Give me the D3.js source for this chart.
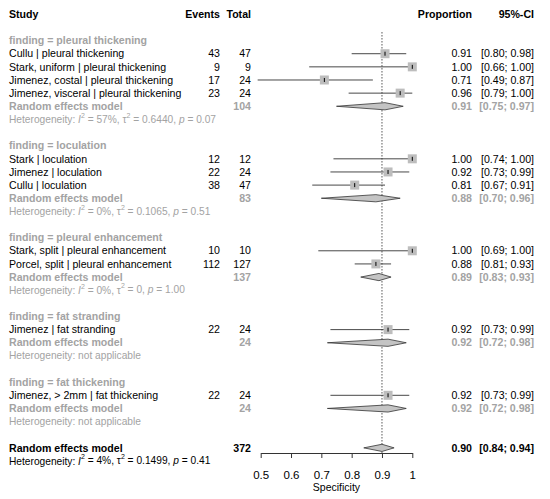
<!DOCTYPE html>
<html>
<head>
<meta charset="utf-8">
<script src="https://cdn.jsdelivr.net/npm/d3@7"></script>
<style>
  body { margin: 0; background: #fff; }
  text { font-family: "Liberation Sans", Arial, sans-serif; }
</style>
</head>
<body>
<script>
const groups = ["pleural thickening", "loculation", "pleural enhancement", "fat stranding", "fat thickening"];

const studies = [
  "Cullu | pleural thickening",
  "Stark, uniform | pleural thickening",
  "Jimenez, costal | pleural thickening",
  "Jimenez, visceral | pleural thickening",
  "Stark | loculation",
  "Jimenez | loculation",
  "Cullu | loculation",
  "Stark, split | pleural enhancement",
  "Porcel, split | pleural enhancement",
  "Jimenez | fat stranding",
  "Jimenez, > 2mm | fat thickening"
];
const studyGroup = [0, 0, 0, 0, 1, 1, 1, 2, 2, 3, 4];
const events = [43, 9, 17, 23, 12, 22, 38, 10, 112, 22, 22];
const totals = [47, 9, 24, 24, 12, 24, 47, 10, 127, 24, 24];
const props = [0.91, 1.00, 0.71, 0.96, 1.00, 0.92, 0.81, 1.00, 0.88, 0.92, 0.92];
const ciLow = [0.80, 0.66, 0.49, 0.79, 0.74, 0.73, 0.67, 0.69, 0.81, 0.73, 0.73];
const ciHigh = [0.98, 1.00, 0.87, 1.00, 1.00, 0.99, 0.91, 1.00, 0.93, 0.99, 0.99];

const subTotals = [104, 83, 137, 24, 24];
const subProp = [0.91, 0.88, 0.89, 0.92, 0.92];
const subLow = [0.75, 0.70, 0.83, 0.72, 0.72];
const subHigh = [0.97, 0.96, 0.93, 0.98, 0.98];
const subI2 = ["57%", "0%", "0%", null, null];
const subTau2 = ["0.6440", "0.1065", "0", null, null];
const subP = ["0.07", "0.51", "1.00", null, null];

const overall = { total: 372, prop: 0.90, low: 0.84, high: 0.94, i2: "4%", tau2: "0.1499", p: "0.41" };

const xTicks = [0.5, 0.6, 0.7, 0.8, 0.9, 1];
const refLine = 0.9;

const width = 550, height = 499;
const gray = "#a3a3a3";
const fs = 10.6;

const svg = d3.select("body").append("svg")
  .attr("width", width).attr("height", height);

// build rows
const rows = [];
rows.push({ type: "header" });
rows.push({ type: "blank" });
groups.forEach((g, gi) => {
  rows.push({ type: "group", label: "finding = " + g });
  studies.forEach((s, i) => {
    if (studyGroup[i] === gi) rows.push({ type: "study", i });
  });
  rows.push({ type: "sub", gi });
  rows.push({ type: "het", gi });
  rows.push({ type: "blank" });
});
rows.push({ type: "overall" });
rows.push({ type: "overallHet" });

const y = d3.scaleLinear().domain([0, rows.length - 1]).range([14.3, 461]);
const x = d3.scaleLinear().domain([0.5, 1]).range([260.7, 412.3]);

const col = { study: 9, events: 220, total: 251, prop: 472, ci: 534 };
const f2 = d3.format(".2f");

function txt(xp, yp, s, opts = {}) {
  return svg.append("text")
    .attr("x", xp).attr("y", yp).attr("dy", "0.35em")
    .attr("text-anchor", opts.anchor || "start")
    .attr("font-size", opts.size || fs)
    .attr("font-weight", opts.bold ? "bold" : "normal")
    .attr("fill", opts.color || "#000")
    .text(s);
}

function hetText(yp, i2, tau2, p, color) {
  const t = svg.append("text")
    .attr("x", col.study).attr("y", yp).attr("dy", "0.35em")
    .attr("font-size", 10.2).attr("fill", color);
  if (i2 === null) {
    t.text("Heterogeneity: not applicable");
    return;
  }
  t.append("tspan").text("Heterogeneity: ");
  t.append("tspan").attr("font-style", "italic").text("I");
  t.append("tspan").attr("font-size", 7).attr("dy", "-0.75em").text("2");
  t.append("tspan").attr("dy", "0.5em").text(" = " + i2 + ", \u03c4");
  t.append("tspan").attr("font-size", 7).attr("dy", "-0.75em").text("2");
  t.append("tspan").attr("dy", "0.5em").text(" = " + tau2 + ", ");
  t.append("tspan").attr("font-style", "italic").text("p");
  t.append("tspan").text(" = " + p);
}

function diamond(yp, est, lo, hi) {
  const h = 3.6;
  svg.append("polygon")
    .attr("points", [[x(lo), yp], [x(est), yp - h], [x(hi), yp], [x(est), yp + h]].join(" "))
    .attr("fill", "#c4c4c4").attr("stroke", "#333").attr("stroke-width", 0.8);
}

// reference line
const yTopRef = y(1.35);
const axisY = 453;
svg.append("line")
  .attr("x1", x(refLine)).attr("x2", x(refLine))
  .attr("y1", yTopRef).attr("y2", axisY)
  .attr("stroke", "#555").attr("stroke-width", 1)
  .attr("stroke-dasharray", "1.5,1.5");

rows.forEach((r, ri) => {
  const yp = y(ri);
  if (r.type === "header") {
    txt(col.study, yp, "Study", { bold: true });
    txt(col.events, yp, "Events", { bold: true, anchor: "end" });
    txt(col.total, yp, "Total", { bold: true, anchor: "end" });
    txt(col.prop, yp, "Proportion", { bold: true, anchor: "end" });
    txt(col.ci, yp, "95%-CI", { bold: true, anchor: "end" });
  } else if (r.type === "group") {
    txt(col.study, yp, r.label, { bold: true, color: gray });
  } else if (r.type === "study") {
    const i = r.i;
    txt(col.study, yp, studies[i]);
    txt(col.events, yp, events[i], { anchor: "end" });
    txt(col.total, yp, totals[i], { anchor: "end" });
    txt(col.prop, yp, f2(props[i]), { anchor: "end" });
    txt(col.ci, yp, "[" + f2(ciLow[i]) + "; " + f2(ciHigh[i]) + "]", { anchor: "end" });
    svg.append("line")
      .attr("x1", x(ciLow[i])).attr("x2", x(ciHigh[i]))
      .attr("y1", yp).attr("y2", yp)
      .attr("stroke", "#333").attr("stroke-width", 0.9);
    const s = 9;
    svg.append("rect")
      .attr("x", x(props[i]) - s / 2).attr("y", yp - s / 2)
      .attr("width", s).attr("height", s)
      .attr("fill", "#bdbdbd");
    svg.append("line")
      .attr("x1", x(props[i])).attr("x2", x(props[i]))
      .attr("y1", yp - 2).attr("y2", yp + 2)
      .attr("stroke", "#000").attr("stroke-width", 1);
  } else if (r.type === "sub") {
    const g = r.gi;
    txt(col.study, yp, "Random effects model", { bold: true, color: gray });
    txt(col.total, yp, subTotals[g], { bold: true, color: gray, anchor: "end" });
    txt(col.prop, yp, f2(subProp[g]), { bold: true, color: gray, anchor: "end" });
    txt(col.ci, yp, "[" + f2(subLow[g]) + "; " + f2(subHigh[g]) + "]", { bold: true, color: gray, anchor: "end" });
    diamond(yp, subProp[g], subLow[g], subHigh[g]);
  } else if (r.type === "het") {
    const g = r.gi;
    hetText(yp, subI2[g], subTau2[g], subP[g], gray);
  } else if (r.type === "overall") {
    txt(col.study, yp, "Random effects model", { bold: true });
    txt(col.total, yp, overall.total, { bold: true, anchor: "end" });
    txt(col.prop, yp, f2(overall.prop), { bold: true, anchor: "end" });
    txt(col.ci, yp, "[" + f2(overall.low) + "; " + f2(overall.high) + "]", { bold: true, anchor: "end" });
    diamond(yp, overall.prop, overall.low, overall.high);
  } else if (r.type === "overallHet") {
    hetText(yp, overall.i2, overall.tau2, overall.p, "#000");
  }
});

// axis
const axis = d3.axisBottom(x)
  .tickValues(xTicks)
  .tickFormat(d => d === 1 ? "1" : d3.format(".1f")(d))
  .tickSize(5)
  .tickSizeOuter(0)
  .tickPadding(13);

const ax = svg.append("g")
  .attr("transform", `translate(0,${axisY})`)
  .call(axis);
ax.selectAll("text").attr("font-size", 11.5).attr("fill", "#000")
  .attr("font-family", "'Liberation Sans', Arial, sans-serif");
ax.selectAll("line,path").attr("stroke", "#333");

txt((x(0.5) + x(1)) / 2, 487, "Specificity", { anchor: "middle", size: 10.5 });
</script>
</body>
</html>
